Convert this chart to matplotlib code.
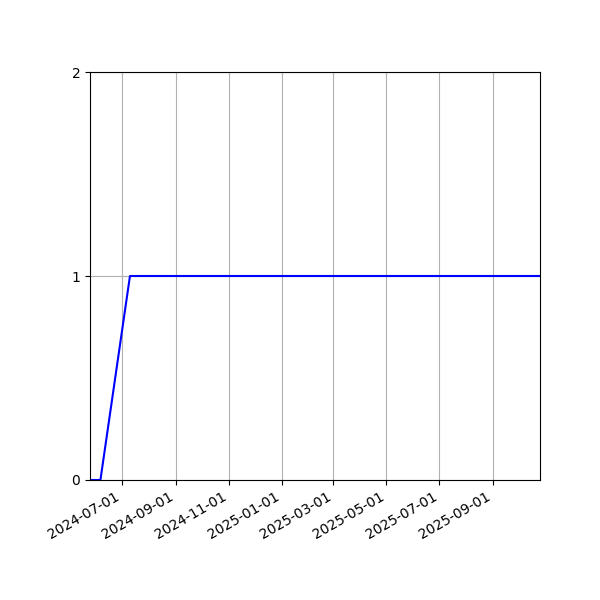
import numpy as np
import pandas as pd
import matplotlib
matplotlib.use('Agg')
import matplotlib.pyplot as plt
import matplotlib.dates as mdates

# step series
dates = pd.to_datetime(['2024-05-25', '2024-06-06', '2024-07-10', '2025-10-25'])
values = [0, 0, 1, 1]

fig, ax = plt.subplots(figsize=(6, 6), dpi=100)
ax.plot(dates, values, color='blue')
ax.set_xlim(dates[0], dates[-1])
ax.set_ylim(0, 2)
ax.set_yticks([0, 1, 2])
ax.xaxis.set_major_locator(mdates.MonthLocator(bymonth=[1, 3, 5, 7, 9, 11]))
ax.xaxis.set_major_formatter(mdates.DateFormatter('%Y-%m-%d'))
ax.grid(True, color='#b0b0b0')
fig.autofmt_xdate()
fig.subplots_adjust(left=0.15, right=0.9, top=0.88, bottom=0.2)
fig.savefig('out.png')
